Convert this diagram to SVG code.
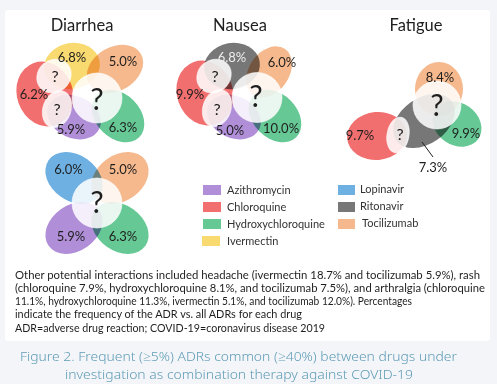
<svg xmlns="http://www.w3.org/2000/svg" width="497" height="384" viewBox="0 0 497 384">
<style>
.bg{fill:#f3f5f8}
.panel{fill:#fff}
.p{mix-blend-mode:multiply}
.az{fill:#b08fd8}
.cq{fill:#f26f6f}
.hc{fill:#66c895}
.iv{fill:#f8da70}
.lo{fill:#6eb0e2}
.ri{fill:#777777}
.to{fill:#f5b98d}
.w{fill:#ffffff;fill-opacity:.86;stroke:#ffffff;stroke-opacity:.6;stroke-width:1}
text{font-family:Lato,"Liberation Sans",sans-serif;fill:#1e1e1e}
.t{font-size:16.5px;text-anchor:middle}
.l{font-size:13px;text-anchor:middle}
.q{font-size:30px;text-anchor:middle}
.qs{font-size:16px;text-anchor:middle}
.lg{font-size:11px;fill:#333}
.n{font-size:11.5px}
.cap{font-family:"Noto Sans","Open Sans",sans-serif;font-size:13px;font-weight:300;fill:#5f9cb6;text-anchor:middle}
.ld{stroke:#222;stroke-width:1;fill:none}
</style>
<rect class="bg" x="0" y="0" width="497" height="384"/>
<rect class="panel" x="5" y="10" width="485" height="331" rx="3"/>

<g id="diarrhea">
<text class="t" x="82" y="30.5">Diarrhea</text>
<ellipse class="p iv" transform="translate(72 66) rotate(-10)" rx="28" ry="23"/>
<ellipse class="p to" transform="translate(115 69) rotate(-30)" rx="30" ry="22"/>
<ellipse class="p cq" transform="translate(45 94) rotate(-20)" rx="28" ry="33"/>
<ellipse class="p az" transform="translate(74 117) rotate(25)" rx="28" ry="21"/>
<ellipse class="p hc" transform="translate(118 116) rotate(45)" rx="30" ry="22"/>
<ellipse class="w" transform="translate(54 76) rotate(-40)" rx="18" ry="16"/>
<ellipse class="w" transform="translate(57 109) rotate(20)" rx="14" ry="19"/>
<circle class="w" cx="97" cy="98" r="25"/>
<text class="l" x="72" y="61.5">6.8%</text>
<text class="l" x="123" y="66">5.0%</text>
<text class="l" x="34" y="98.5">6.2%</text>
<text class="l" x="71" y="134">5.9%</text>
<text class="l" x="123" y="132">6.3%</text>
<text class="qs" x="55" y="82">?</text>
<text class="qs" x="57" y="115">?</text>
<text class="q" x="97" y="110">?</text>
</g>

<g id="nausea">
<text class="t" x="240" y="30.5">Nausea</text>
<ellipse class="p ri" transform="translate(232 66) rotate(-10)" rx="28" ry="23"/>
<ellipse class="p to" transform="translate(269 72) rotate(-55)" rx="28" ry="20"/>
<ellipse class="p cq" transform="translate(205 93) rotate(-20)" rx="28" ry="33"/>
<ellipse class="p az" transform="translate(234 117) rotate(25)" rx="28" ry="21"/>
<ellipse class="p hc" transform="translate(275 116) rotate(45)" rx="30" ry="22"/>
<ellipse class="w" transform="translate(214 76) rotate(-40)" rx="18" ry="16"/>
<ellipse class="w" transform="translate(217 108) rotate(20)" rx="14" ry="19"/>
<circle class="w" cx="257" cy="97.5" r="25"/>
<text class="l" x="232" y="61.5" style="fill:#eeeeee">6.8%</text>
<text class="l" x="282" y="66.5">6.0%</text>
<text class="l" x="190" y="99">9.9%</text>
<text class="l" x="230" y="135">5.0%</text>
<text class="l" x="281" y="133">10.0%</text>
<text class="qs" x="215" y="82">?</text>
<text class="qs" x="217" y="115">?</text>
<text class="q" x="256" y="107">?</text>
</g>

<g id="fatigue">
<text class="t" x="416" y="30.5">Fatigue</text>
<ellipse class="p to" transform="translate(439 89)" rx="24" ry="27"/>
<ellipse class="p ri" transform="translate(424 121) rotate(-35)" rx="34" ry="23"/>
<ellipse class="p hc" transform="translate(457 124) rotate(35)" rx="26" ry="21"/>
<ellipse class="p cq" transform="translate(377 136) rotate(-5)" rx="30" ry="24"/>
<ellipse class="w" transform="translate(398 135) rotate(10)" rx="11" ry="18"/>
<circle class="w" cx="437" cy="105" r="24"/>
<text class="l" x="440" y="81.5">8.4%</text>
<text class="l" x="360" y="140">9.7%</text>
<text class="l" x="466" y="138">9.9%</text>
<text class="l" x="433" y="171.5">7.3%</text>
<text class="qs" x="400" y="140">?</text>
<text class="q" x="437" y="116">?</text>
</g>

<g id="connectors">
<line class="ld" x1="422" y1="142" x2="433" y2="157"/>
</g>

<g id="combination">
<ellipse class="p lo" transform="translate(74 178) rotate(35)" rx="31" ry="23"/>
<ellipse class="p to" transform="translate(120 178) rotate(-35)" rx="31" ry="23"/>
<ellipse class="p az" transform="translate(74 228) rotate(-35)" rx="31" ry="23"/>
<ellipse class="p hc" transform="translate(120 228) rotate(35)" rx="31" ry="23"/>
<circle class="w" cx="97" cy="203" r="25"/>
<text class="l" x="68.5" y="174">6.0%</text>
<text class="l" x="123" y="174">5.0%</text>
<text class="l" x="71" y="241">5.9%</text>
<text class="l" x="123" y="241">6.3%</text>
<text class="q" x="97" y="213">?</text>
</g>

<g id="legend">
<rect class="az" x="203" y="185" width="18" height="10"/>
<text class="lg" x="227" y="193.5">Azithromycin</text>
<rect class="cq" x="203" y="202" width="18" height="10"/>
<text class="lg" x="227" y="210.5">Chloroquine</text>
<rect class="hc" x="203" y="219" width="18" height="10"/>
<text class="lg" x="227" y="227.5">Hydroxychloroquine</text>
<rect class="iv" x="202" y="236" width="18" height="10"/>
<text class="lg" x="227" y="244.5">Ivermectin</text>
<rect class="lo" x="338" y="185" width="17" height="10"/>
<text class="lg" x="360" y="193">Lopinavir</text>
<rect class="ri" x="338" y="202" width="17" height="10"/>
<text class="lg" x="360" y="210">Ritonavir</text>
<rect class="to" x="338" y="219" width="17" height="10"/>
<text class="lg" x="362" y="227">Tocilizumab</text>
</g>

<g id="note">
<text class="n" x="15" y="279" textLength="465" lengthAdjust="spacingAndGlyphs">Other potential interactions included headache (ivermectin 18.7% and tocilizumab 5.9%), rash</text>
<text class="n" x="15" y="292" textLength="470" lengthAdjust="spacingAndGlyphs">(chloroquine 7.9%, hydroxychloroquine 8.1%, and tocilizumab 7.5%), and arthralgia (chloroquine</text>
<text class="n" x="15" y="305" textLength="397" lengthAdjust="spacingAndGlyphs">11.1%, hydroxychloroquine 11.3%, ivermectin 5.1%, and tocilizumab 12.0%). Percentages</text>
<text class="n" x="15" y="318" textLength="287" lengthAdjust="spacingAndGlyphs">indicate the frequency of the ADR vs. all ADRs for each drug</text>
<text class="n" x="15" y="331.5" textLength="310" lengthAdjust="spacingAndGlyphs">ADR=adverse drug reaction; COVID-19=coronavirus disease 2019</text>
</g>

<g id="caption">
<text class="cap" x="238.5" y="361" textLength="437" lengthAdjust="spacingAndGlyphs">Figure 2. Frequent (≥5%) ADRs common (≥40%) between drugs under</text>
<text class="cap" x="239" y="379" textLength="348" lengthAdjust="spacingAndGlyphs">investigation as combination therapy against COVID-19</text>
</g>
</svg>
